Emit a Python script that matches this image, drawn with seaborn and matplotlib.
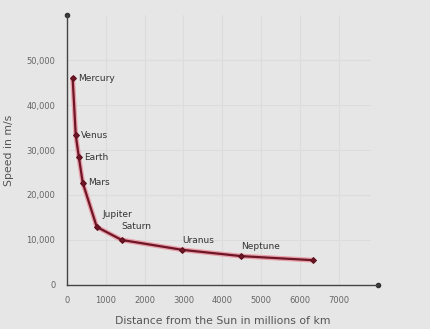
import matplotlib
matplotlib.use("Agg")
import matplotlib.pyplot as plt
import seaborn as sns
import pandas as pd

# values
planets = ["Mercury", "Venus", "Earth", "Mars", "Jupiter", "Saturn", "Uranus", "Neptune", ""]
distance = [150, 230, 310, 410, 770, 1410, 2970, 4490, 6330]
speed = [46000, 33300, 28400, 22700, 12900, 10000, 7800, 6400, 5500]

x_ticks = [0, 1000, 2000, 3000, 4000, 5000, 6000, 7000]
y_ticks = [0, 10000, 20000, 30000, 40000, 50000]

df = pd.DataFrame({"Distance": distance, "Speed": speed, "Planet": planets})

sns.set_theme(style="white")
plt.rcParams['font.family'] = ['DejaVu Sans']

fig = plt.figure(figsize=(4.31, 3.29), dpi=100, facecolor="#e6e6e6")
ax = fig.add_axes([0.155, 0.134, 0.722, 0.82])
ax.set_facecolor("#e6e6e6")

# faint grid
for xv in x_ticks[1:]:
    ax.plot([xv, xv], [0, 60000], color="#dcdcdc", lw=0.8, zorder=0)
for yv in y_ticks[1:]:
    ax.plot([0, 7800], [yv, yv], color="#dcdcdc", lw=0.8, zorder=0)

# pink halo, then the curve
sns.lineplot(data=df, x="Distance", y="Speed", ax=ax, color="#e8a0aa", lw=3.5, zorder=2, sort=False)
sns.lineplot(data=df, x="Distance", y="Speed", ax=ax, color="#6e1626", lw=1.6,
             marker="D", markersize=3, markeredgecolor="#5a0f1c", zorder=3, sort=False)

offsets = {"Mercury": (4, 0, "left", "center"), "Venus": (4, 0, "left", "center"),
           "Earth": (4, 0, "left", "center"), "Mars": (4, 0, "left", "center"),
           "Jupiter": (4, 9, "left", "center"), "Saturn": (0, 10, "left", "center"),
           "Uranus": (0, 7, "left", "center"), "Neptune": (0, 7, "left", "center")}
for name, xv, yv in zip(planets, distance, speed):
    if name in offsets:
        dx, dy, ha, va = offsets[name]
        ax.annotate(name, (xv, yv), xytext=(dx, dy), textcoords="offset points",
                    ha=ha, va=va, fontsize=6.5, color="#333333")

ax.set_xlim(0, 8000)
ax.set_ylim(0, 60000)
ax.set_xticks(x_ticks)
ax.set_yticks(y_ticks)
ax.set_xticklabels([str(v) for v in x_ticks])
ax.set_yticklabels(["{:,}".format(v) for v in y_ticks])
ax.tick_params(axis="both", labelsize=6, length=2.5, width=2, direction="inout", pad=7,
               colors="#333333", labelcolor="#666666")

for s in ["top", "right"]:
    ax.spines[s].set_visible(False)
for s in ["left", "bottom"]:
    ax.spines[s].set_color("#444444")
    ax.spines[s].set_linewidth(1.0)

# dots at the axis ends
ax.plot([8000], [0], marker="o", color="#333333", markersize=3, clip_on=False)
ax.plot([0], [60000], marker="o", color="#333333", markersize=3, clip_on=False)

ax.set_xlabel("Distance from the Sun in millions of km", fontsize=7.8, color="#555555", labelpad=8)
ax.set_ylabel("Speed in m/s", fontsize=7.8, color="#555555", labelpad=9)

fig.savefig("out.png", dpi=100, facecolor=fig.get_facecolor())
